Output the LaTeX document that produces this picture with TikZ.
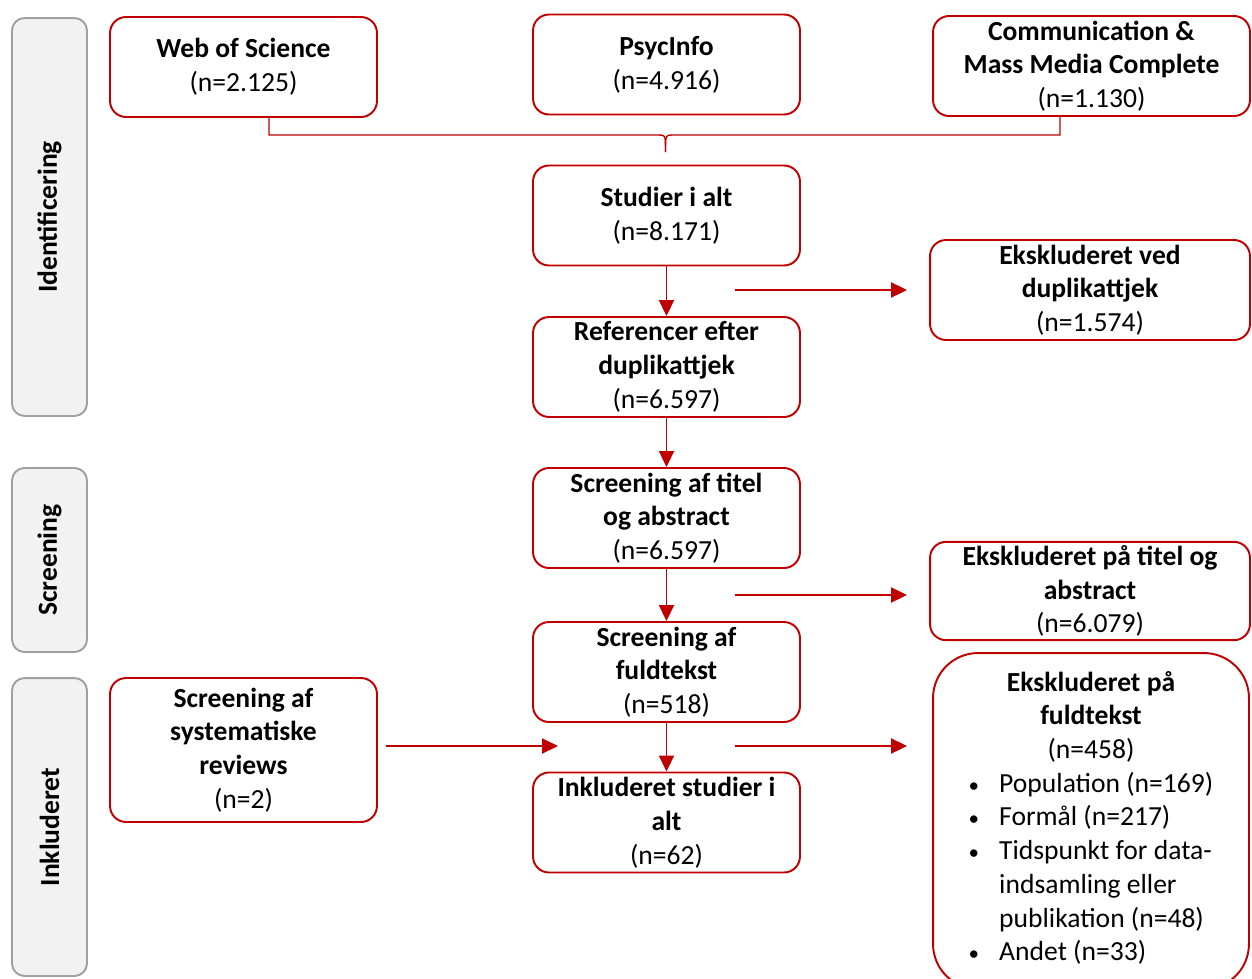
\documentclass[tikz,border=0pt]{standalone}
\usepackage{fontspec}
\setmainfont{Carlito}
\usetikzlibrary{arrows.meta,positioning}
\definecolor{prismared}{HTML}{C00000}
\definecolor{phasegray}{HTML}{A0A0A0}
\definecolor{phasefill}{HTML}{F2F2F2}
\tikzset{
  box/.style={draw=prismared, line width=1.1pt, rounded corners=0.32cm, align=center,
    minimum width=5.34cm, minimum height=2cm, inner sep=2pt,
    font=\fontsize{15.7}{19.2}\selectfont},
  phase/.style={draw=phasegray, fill=phasefill, line width=1.1pt, rounded corners=0.25cm,
    rotate=90, minimum height=1.5cm, inner sep=0pt,
    font=\fontsize{15.7}{19.2}\selectfont\bfseries},
  flow/.style={draw=prismared, line width=1.1pt, -{Triangle[length=0.32cm,width=0.3cm]}},
}
\newcommand{\pkt}{{\fontsize{12}{12}\selectfont\textbullet}}
\begin{document}
\begin{tikzpicture}[x=0.02cm, y=-0.02cm]
    \useasboundingbox (0,0) rectangle (1252,978);

    % faser
    \node[phase, minimum width=7.96cm] (fident) at (49.5,217) {Identificering};
    \node[phase, minimum width=3.68cm] (fscreen) at (49.5,560) {Screening};
    \node[phase, minimum width=5.96cm] (finkl) at (49.5,827) {Inkluderet};

    % databaser
    \node[box] (wos) at (243.5,67) {\textbf{Web of Science}\\(n=2.125)};
    \node[box] (psyc) at (666.5,64.5) {\textbf{PsycInfo}\\(n=4.916)};
    \node[box, minimum width=6.34cm] (comm) at (1091.5,66)
        {\textbf{Communication \&}\\\textbf{Mass Media Complete}\\(n=1.130)};

    % klamme
    \coordinate (brl) at (269,135);
    \coordinate (brr) at (1060,135);
    \coordinate (brtip) at (665.5,152);
    \draw[prismared, line width=0.8pt] (wos.south -| brl) -- (brl) -- (659,135)
        .. controls (665.5,135) .. (brtip);
    \draw[prismared, line width=0.8pt] (comm.south -| brr) -- (brr) -- (672,135)
        .. controls (665.5,135) .. (brtip);

    % hovedforloeb
    \node[box] (studier) at (666.5,215.5) {\textbf{Studier i alt}\\(n=8.171)};
    \node[box] (refs) at (666.5,367) {\textbf{Referencer efter}\\\textbf{duplikattjek}\\(n=6.597)};
    \node[box] (scrtitel) at (666.5,518) {\textbf{Screening af titel}\\\textbf{og abstract}\\(n=6.597)};
    \node[box] (scrfuld) at (666.5,672) {\textbf{Screening af}\\\textbf{fuldtekst}\\(n=518)};
    \node[box] (inkl) at (666.5,822.5) {\textbf{Inkluderet studier i}\\\textbf{alt}\\(n=62)};

    \draw[flow] (studier) -- (refs);
    \draw[flow] (refs) -- (scrtitel);
    \draw[flow] (scrtitel) -- (scrfuld);
    \draw[flow] (scrfuld) -- (inkl);

    % eksklusioner
    \node[box, minimum width=6.4cm] (exdup) at (1090,290)
        {\textbf{Ekskluderet ved}\\\textbf{duplikattjek}\\(n=1.574)};
    \node[box, minimum width=6.4cm, minimum height=1.96cm] (extitel) at (1090,591)
        {\textbf{Ekskluderet på titel og}\\\textbf{abstract}\\(n=6.079)};
    \node[box, minimum width=6.32cm, minimum height=6.72cm, rounded corners=0.9cm] (exfuld) at (1091,821)
        {\textbf{Ekskluderet på}\\\textbf{fuldtekst}\\(n=458)\\
         \begin{tabular}[t]{@{}l@{\hspace{0.4cm}}l@{}}
           \pkt & Population (n=169)\\
           \pkt & Formål (n=217)\\
           \pkt & Tidspunkt for data-\\
                & indsamling eller\\
                & publikation (n=48)\\
           \pkt & Andet (n=33)
         \end{tabular}};

    \coordinate (a1) at (735,290);
    \coordinate (a2) at (735,595);
    \coordinate (a3) at (735,746);
    \draw[flow, shorten >=0.44cm] (a1) -- (exdup.west |- a1);
    \draw[flow, shorten >=0.44cm] (a2) -- (extitel.west |- a2);
    \draw[flow, shorten >=0.5cm] (a3) -- (exfuld.west |- a3);

    % systematiske reviews
    \node[box, minimum height=2.88cm] (sysrev) at (243.5,750)
        {\textbf{Screening af}\\\textbf{systematiske}\\\textbf{reviews}\\(n=2)};
    \coordinate (a4) at (558,746);
    \draw[flow, shorten <=0.16cm] (sysrev.east |- a4) -- (a4);
\end{tikzpicture}
\end{document}
